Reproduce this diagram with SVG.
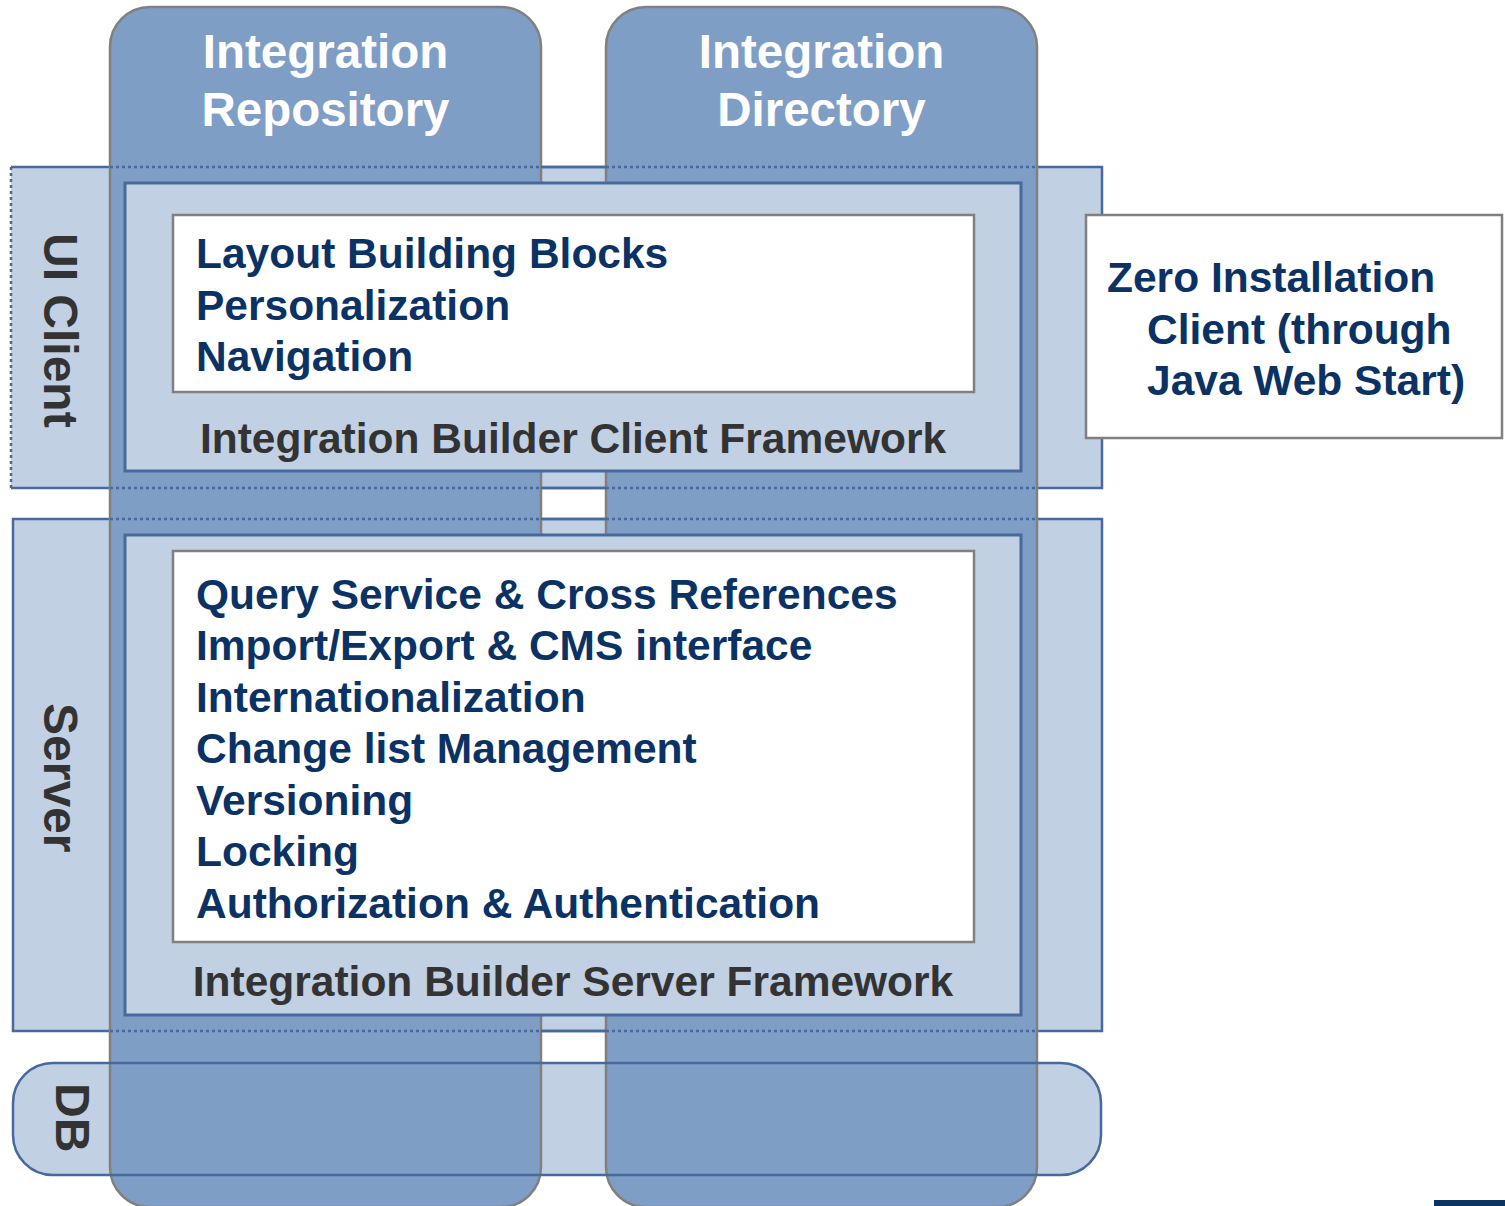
<svg xmlns="http://www.w3.org/2000/svg" width="1505" height="1206" viewBox="0 0 1505 1206">
<style>
.band{fill:#c1d0e3;}
.edge{fill:none;stroke:#466a9b;stroke-width:2.5;}
.dot{fill:none;stroke:#466a9b;stroke-width:2.5;stroke-dasharray:3 3;}
.col{fill:#7f9ec6;stroke:#808080;stroke-width:2.5;}
.frame{fill:#c1d0e3;stroke:#466a9b;stroke-width:3;}
.wbox{fill:#ffffff;stroke:#808080;stroke-width:2.5;}
text{font-family:"Liberation Sans",Arial,sans-serif;font-weight:bold;}
.title{fill:#ffffff;font-size:47.5px;text-anchor:middle;}
.item{fill:#0b3264;font-size:42.5px;}
.fw{fill:#333333;font-size:42.5px;text-anchor:middle;}
.side{fill:#333333;font-size:48px;}
</style>
<rect width="1505" height="1206" fill="#ffffff"/>

<!-- bands (background layers) -->
<g id="band-ui">
  <rect class="band" x="11" y="167" width="1091" height="321"/>
  <path class="edge" d="M11 167 H1102 V488 H11"/>
  <path class="dot" d="M11 167 V488"/>
</g>
<g id="band-server">
  <rect class="band" x="13" y="519" width="1089" height="512"/>
  <rect class="edge" x="13" y="519" width="1089" height="512"/>
</g>
<g id="band-db-fill">
  <rect class="band" x="13" y="1063" width="1088" height="112" rx="40" ry="40"/>
</g>

<!-- columns -->
<g id="col-repository">
  <rect class="col" x="110" y="7" width="431" height="1200" rx="40" ry="40"/>
  <text class="title" x="325.5" y="68">Integration</text>
  <text class="title" x="325.5" y="126">Repository</text>
</g>
<g id="col-directory">
  <rect class="col" x="606" y="7" width="431" height="1200" rx="40" ry="40"/>
  <text class="title" x="821.5" y="68">Integration</text>
  <text class="title" x="821.5" y="126">Directory</text>
</g>

<!-- band edges over columns -->
<g id="band-edges-over">
  <path class="dot" d="M110 167 H541 M606 167 H1037 M110 488 H541 M606 488 H1037 M110 519 H541 M606 519 H1037 M110 1031 H541 M606 1031 H1037"/>
  <path class="edge" d="M541 167 H606 M541 488 H606 M541 519 H606 M541 1031 H606"/>
  <rect id="band-db-edge" class="edge" x="13" y="1063" width="1088" height="112" rx="40" ry="40"/>
</g>

<!-- side labels -->
<g id="label-ui-client">
  <text class="side" transform="translate(44,233) rotate(90)">UI Client</text>
</g>
<g id="label-server">
  <text class="side" transform="translate(44,703) rotate(90)">Server</text>
</g>
<g id="label-db">
  <text class="side" transform="translate(56,1083) rotate(90)">DB</text>
</g>

<!-- client framework -->
<g id="client-framework">
  <rect class="frame" x="125" y="183" width="896" height="288"/>
  <text class="fw" x="573" y="453">Integration Builder Client Framework</text>
</g>
<g id="client-features">
  <rect class="wbox" x="173" y="215" width="801" height="177"/>
  <text class="item" x="196" y="268">Layout Building Blocks</text>
  <text class="item" x="196" y="320">Personalization</text>
  <text class="item" x="196" y="371">Navigation</text>
</g>

<!-- server framework -->
<g id="server-framework">
  <rect class="frame" x="125" y="535" width="896" height="480"/>
  <text class="fw" x="573" y="996">Integration Builder Server Framework</text>
</g>
<g id="server-features">
  <rect class="wbox" x="173" y="551" width="801" height="391"/>
  <text class="item" x="196" y="609">Query Service &amp; Cross References</text>
  <text class="item" x="196" y="660">Import/Export &amp; CMS interface</text>
  <text class="item" x="196" y="712">Internationalization</text>
  <text class="item" x="196" y="763">Change list Management</text>
  <text class="item" x="196" y="815">Versioning</text>
  <text class="item" x="196" y="866">Locking</text>
  <text class="item" x="196" y="918">Authorization &amp; Authentication</text>
</g>

<!-- zero installation client -->
<g id="zero-install">
  <rect class="wbox" x="1086" y="215" width="416" height="223"/>
  <text class="item" x="1107" y="292">Zero Installation</text>
  <text class="item" x="1147" y="344">Client (through</text>
  <text class="item" x="1147" y="395">Java Web Start)</text>
</g>

<g id="connectors"></g>

<rect x="1434" y="1200" width="71" height="6" fill="#0c3462"/>
</svg>
